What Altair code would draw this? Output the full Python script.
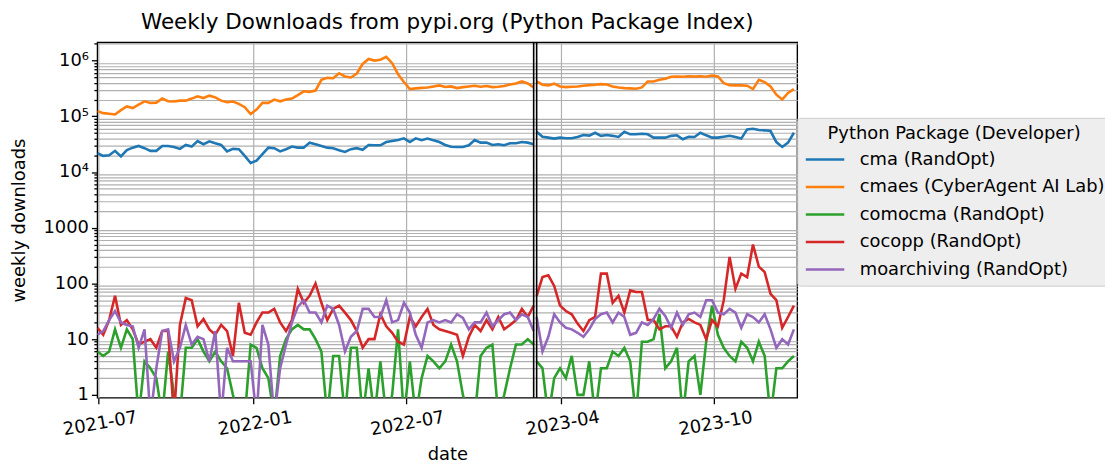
import pandas as pd
import altair as alt

# ---------------- data ----------------
packages = ["cma (RandOpt)", "cmaes (CyberAgent AI Lab)", "comocma (RandOpt)",
            "cocopp (RandOpt)", "moarchiving (RandOpt)"]
colors = ["#1f77b4", "#ff7f0e", "#2ca02c", "#d62728", "#9467bd"]

# weekly sample dates of the two panels (the x axis is broken between them)
left_dates = pd.date_range("2021-06-30", periods=75, freq="7D")
right_dates = pd.date_range("2023-03-03", periods=45, freq="7D")

# panel edges and x tick dates
panel_edges = ["2021-06-30", "2022-11-30", "2023-03-03", "2024-01-09"]
tick_dates = ["2021-07-01", "2022-01-01", "2022-07-01", "2023-04-01", "2023-10-01"]

# values in thousands for the two large series
cma_left_k = [21.8, 19.5, 20, 24, 19, 24.7, 27.4, 29.4, 26.8, 24,
              24, 29.4, 29.4, 28.2, 26, 30.6, 28.6, 36, 31.6, 35.6,
              32.9, 30.6, 23.5, 26, 25.7, 19.5, 14.5, 16, 21, 27.4,
              26.8, 23.5, 25.7, 28.6, 27.4, 27.4, 33.7, 31.6, 29.4, 27.4,
              26.8, 24.7, 23, 25.7, 26.8, 25, 30.6, 30.2, 30.2, 34.5,
              36, 37.6, 40.3, 34.6, 40.3, 37.2, 39.8, 37.2, 34.5, 30.6,
              28.5, 28.2, 28.2, 30.2, 37.6, 33.7, 33.7, 30.6, 31.6, 30.2,
              32.9, 32.9, 34.5, 33.7, 31.6]
cma_right_k = [52.8, 43, 41.4, 39.8, 41.4, 40.3, 40.3, 42.6, 46.1, 45,
               50.7, 44.6, 46.1, 44.6, 42.6, 52.8, 47.5, 47.5, 48.7, 47.5,
               41.4, 41.4, 41.4, 44.6, 45.6, 38.7, 43, 42.6, 50.7, 45.6,
               41.4, 41.4, 43, 44.6, 42.6, 39.8, 58.3, 59.8, 56.6, 56,
               54.4, 34.5, 28.2, 33.7, 50.7]

cmaes_left_k = [124, 114, 111, 108, 129, 150, 141, 162, 186, 174,
                176, 208, 186, 184, 191, 191, 208, 229, 213, 235,
                219, 191, 179, 184, 167, 146, 110, 132, 174, 174,
                200, 186, 200, 208, 240, 281, 275, 290, 453, 490,
                483, 594, 519, 498, 586, 871, 1070, 1000, 1040, 1170,
                900, 570, 413, 308, 317, 324, 330, 344, 359, 337,
                344, 321, 334, 344, 354, 340, 350, 334, 340, 350,
                373, 389, 423, 389, 330]
cmaes_right_k = [423, 369, 359, 385, 344, 334, 340, 344, 354, 363,
                 369, 378, 373, 344, 330, 321, 317, 313, 330, 423,
                 423, 453, 472, 513, 519, 513, 525, 519, 525, 513,
                 541, 519, 394, 363, 359, 359, 354, 308, 453, 410,
                 344, 245, 200, 262, 308]

comocma_left = [6, 5, 6, 15, 7, 15, 10, 0, 4, 3,
                2, 0, 6, 1, 0, 7, 7, 10, 6, 4,
                6, 4, 3, 1, 0, 0, 8, 7, 3, 2,
                0, 5, 10, 15, 18, 15, 15, 10, 6, 0,
                5, 5, 0, 7, 7, 0, 3, 0, 4, 0,
                1, 15, 0, 4, 0, 2, 5, 4, 3, 4,
                8, 4, 1, 0, 0, 5, 7, 8, 0, 1,
                3, 8, 8, 10, 8]
comocma_right = [4, 3, 0, 2, 3, 2, 5, 1, 1, 4,
                 0, 3, 3, 6, 5, 7, 4, 0, 9, 9,
                 10, 28, 3, 4, 7, 0, 4, 5, 1, 9,
                 40, 12, 7, 5, 4, 9, 7, 4, 9, 5,
                 0, 3, 3, 4, 5]

cocopp_left = [16, 12, 22, 60, 18, 22, 15, 8, 9, 10,
               7, 14, 14, 0, 18, 55, 50, 17, 23, 15,
               12, 18, 14, 5, 45, 13, 12, 20, 30, 30,
               35, 20, 14, 22, 80, 45, 60, 100, 45, 22,
               35, 40, 30, 22, 14, 7, 10, 10, 28, 17,
               13, 9, 8, 25, 17, 25, 35, 18, 15, 14,
               13, 12, 5, 11, 18, 14, 22, 15, 25, 15,
               18, 22, 35, 25, 40]
cocopp_right = [60, 130, 140, 90, 40, 32, 28, 19, 14, 22,
                25, 150, 150, 45, 60, 30, 75, 70, 70, 22,
                22, 15, 17, 17, 11, 20, 23, 20, 18, 10,
                22, 17, 50, 300, 80, 150, 130, 500, 200, 160,
                65, 50, 16, 25, 40]

moarchiving_left = [12, 14, 22, 32, 20, 18, 17, 7, 15, 0,
                    3, 14, 15, 4, 7, 18, 8, 11, 10, 4,
                    14, 0, 7, 4, 4, 4, 4, 0, 18, 8,
                    0, 3, 8, 20, 38, 50, 30, 30, 20, 40,
                    35, 18, 6, 11, 14, 35, 35, 25, 25, 50,
                    20, 22, 45, 30, 12, 7, 20, 22, 20, 22,
                    20, 28, 24, 15, 20, 20, 30, 17, 22, 28,
                    30, 22, 28, 25, 14]
moarchiving_right = [25, 6, 11, 28, 20, 16, 15, 13, 11, 15,
                     23, 28, 30, 20, 30, 25, 12, 13, 20, 18,
                     23, 35, 26, 16, 30, 18, 28, 30, 25, 50,
                     50, 30, 28, 35, 30, 16, 28, 25, 20, 28,
                     15, 7, 10, 8, 15]

series = {
    packages[0]: ([v * 1000 for v in cma_left_k], [v * 1000 for v in cma_right_k]),
    packages[1]: ([v * 1000 for v in cmaes_left_k], [v * 1000 for v in cmaes_right_k]),
    packages[2]: (comocma_left, comocma_right),
    packages[3]: (cocopp_left, cocopp_right),
    packages[4]: (moarchiving_left, moarchiving_right),
}


def ms(d):
    return int(pd.Timestamp(d).value // 1_000_000)


rows = []
for pkg, (lv, rv) in series.items():
    for d, v in zip(left_dates, lv):
        rows.append({"t": ms(d), "package": pkg, "downloads": v, "part": "left"})
    for d, v in zip(right_dates, rv):
        rows.append({"t": ms(d), "package": pkg, "downloads": v, "part": "right"})
df = pd.DataFrame(rows)

edges = pd.DataFrame({"t": [ms(panel_edges[1]), ms(panel_edges[2])]})

FONT = "DejaVu Sans"

# piecewise (broken) time axis: each panel keeps its own day-to-pixel ratio
x_scale = alt.Scale(type="linear", domain=[ms(d) for d in panel_edges],
                    range=[0, 439.5, 442.5, 705], nice=False, zero=False)
y_scale = alt.Scale(type="log", domain=[0.885, 2.12e6], nice=False)

major_vals = [1, 10, 100, 1000, 10000, 100000, 1000000]
minor_vals = [m * 10 ** k for k in range(0, 7) for m in range(2, 10) if m * 10 ** k < 2.12e6]

label_expr = ("datum.value == 1 ? '1' : datum.value == 10 ? '10' : datum.value == 100 ? '100' : "
              "datum.value == 1000 ? '1000' : datum.value == 10000 ? '10\u2074' : "
              "datum.value == 100000 ? '10\u2075' : datum.value == 1000000 ? '10\u2076' : ''")

x_axis = alt.Axis(
    values=[ms(d) for d in tick_dates], labelExpr="utcFormat(datum.value, '%Y-%m')",
    labelOverlap=False, labelAngle=350, labelAlign="center", labelBaseline="top",
    labelPadding=11, tickSize=6, title="date", titlePadding=7,
)

y_major_axis = alt.Axis(values=major_vals, labelExpr=label_expr, orient="left",
                        tickSize=6, labelPadding=3, title="weekly downloads",
                        titlePadding=15)
y_minor_axis = alt.Axis(values=minor_vals, labels=False, orient="left",
                        tickSize=3.5, title=None)

base = alt.Chart(df).transform_calculate(plot_value="max(datum.downloads, 0.4)")

lines = base.mark_line(strokeWidth=2.6, clip=True).encode(
    x=alt.X("t:Q", scale=x_scale, axis=x_axis),
    y=alt.Y("plot_value:Q", scale=y_scale, axis=y_major_axis),
    color=alt.Color("package:N", sort=packages,
                    scale=alt.Scale(domain=packages, range=colors),
                    legend=alt.Legend(
                        orient="none", legendX=705, legendY=76,
                        title="Python Package (Developer)",
                        titleFontSize=18, titleFont=FONT, titleFontWeight="normal",
                        titleAnchor="middle", titlePadding=8, titleColor="black",
                        titleLimit=400,
                        labelFontSize=18, labelFont=FONT, labelLimit=400, labelColor="black",
                        labelOffset=14, symbolType="stroke", symbolSize=1500,
                        symbolStrokeWidth=2.6, clipHeight=18, rowPadding=9.7, padding=7,
                        fillColor="#eeeeee", strokeColor="#cccccc", cornerRadius=3)),
    detail="part:N",
)

minor = base.mark_point(opacity=0, clip=True).encode(
    x=alt.X("t:Q", scale=x_scale),
    y=alt.Y("plot_value:Q", scale=y_scale, axis=y_minor_axis),
)

seps = alt.Chart(edges).mark_rule(color="black", strokeWidth=1.6).encode(
    x=alt.X("t:Q", scale=x_scale))

chart = alt.layer(minor, lines, seps).resolve_axis(y="independent").properties(
    width=705, height=358,
    title=alt.TitleParams("Weekly Downloads from pypi.org (Python Package Index)",
                          fontSize=21.6, font=FONT, fontWeight="normal", anchor="middle",
                          color="black", offset=8),
    padding={"left": 90, "top": 33, "right": 310, "bottom": 67},
    autosize=alt.AutoSizeParams(type="none"),
).configure(font=FONT).configure_view(
    stroke="black", strokeWidth=1.4
).configure_axis(
    labelFont=FONT, titleFont=FONT, labelFontSize=18, titleFontSize=18,
    titleFontWeight="normal", labelColor="black", titleColor="black",
    tickColor="black", tickWidth=1.3, domain=False, grid=True,
    gridColor="#b0b0b0", gridWidth=1.2,
)

chart.save("out.html", embed_options={"renderer": "svg", "actions": False})
